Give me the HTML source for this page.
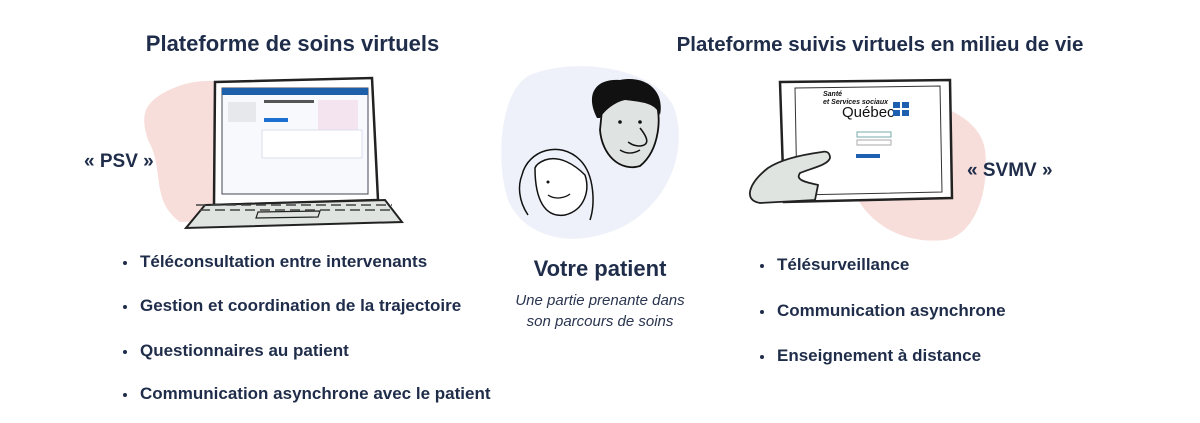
<!DOCTYPE html>
<html><head><meta charset="utf-8"><style>
body{margin:0;width:1200px;height:423px;background:#fff;position:relative;overflow:hidden;font-family:"Liberation Sans",sans-serif;color:#1f2d4a}
.t{position:absolute;font-weight:bold;white-space:nowrap}
.b{position:absolute;font-weight:bold;font-size:17px;white-space:nowrap}
.b:before{content:"";position:absolute;left:-17px;top:9px;width:4px;height:4px;border-radius:50%;background:#1f2d4a}
</style></head><body>
<svg width="1200" height="423" style="position:absolute;left:0;top:0">
<path d="M160 95 C200 70 250 80 260 110 L270 220 L180 222 C150 200 165 170 148 140 C140 115 145 105 160 95Z" fill="#f8dedb"/>
<path d="M880 100 C930 95 980 115 985 150 C990 190 975 235 945 240 C900 245 860 220 850 180 C845 140 850 105 880 100Z" fill="#f8dedb"/>
<path d="M530 75 C580 55 660 70 675 110 C690 160 660 215 610 232 C560 250 520 230 508 200 C495 160 500 90 530 75Z" fill="#eef1f9"/>
<path d="M215 82 L372 78 L378 200 L214 205 Z" fill="#fff" stroke="#222" stroke-width="2.5"/>
<rect x="222" y="88" width="146" height="106" fill="#f7f9fc" stroke="#445" stroke-width="1"/>
<rect x="222" y="88" width="146" height="7" fill="#1d5fa8"/>
<rect x="228" y="102" width="28" height="20" fill="#e6e8ec"/>
<rect x="264" y="100" width="50" height="3" fill="#555"/>
<rect x="264" y="118" width="24" height="4" fill="#1d6fd0"/>
<rect x="318" y="100" width="40" height="30" fill="#f3e4ef"/>
<rect x="262" y="130" width="100" height="28" fill="#fff" stroke="#dde"/>
<path d="M205 205 L385 200 L402 222 L186 228 Z" fill="#dfe4e1" stroke="#222" stroke-width="2"/>
<path d="M258 212 L320 211 L318 217 L256 218 Z" fill="none" stroke="#222" stroke-width="1.2"/>
<path d="M200 210 H390 M196 205 H392" stroke="#444" stroke-width="1.5" stroke-dasharray="10 5"/>
<path d="M780 82 L950 80 L952 198 L784 202 Z" fill="#fff" stroke="#222" stroke-width="2.5"/>
<path d="M795 88 L940 86 L942 192 L797 195 Z" fill="#fff" stroke="#333" stroke-width="1"/>
<text x="823" y="96" font-size="7" font-weight="bold" font-style="italic" fill="#111" font-family="Liberation Sans">Santé</text>
<text x="823" y="104" font-size="7" font-weight="bold" font-style="italic" fill="#111" font-family="Liberation Sans">et Services sociaux</text>
<text x="842" y="117" font-size="15" fill="#111" font-family="Liberation Sans">Québec</text>
<rect x="893" y="102" width="7" height="6" fill="#1f5fb0"/><rect x="902" y="102" width="7" height="6" fill="#1f5fb0"/>
<rect x="893" y="110" width="7" height="6" fill="#1f5fb0"/><rect x="902" y="110" width="7" height="6" fill="#1f5fb0"/>
<rect x="857" y="132" width="34" height="5" fill="none" stroke="#7aa"/>
<rect x="857" y="140" width="34" height="5" fill="none" stroke="#aaa"/>
<rect x="856" y="154" width="24" height="4" fill="#1f5fb0"/>
<path d="M822 152 C800 155 780 160 768 168 C750 182 742 200 760 203 L815 200 L818 185 C805 182 795 180 800 173 C812 168 828 165 830 158 C830 152 826 151 822 152Z" fill="#dfe4e1" stroke="#222" stroke-width="1.8"/>
<path d="M602 110 C598 85 640 80 655 100 C662 115 660 150 640 166 C620 172 602 155 600 130Z" fill="#dfe3e1" stroke="#111" stroke-width="1.8"/>
<path d="M597 118 C585 95 595 78 620 80 C645 75 665 90 660 115 C655 102 640 102 625 100 C615 102 605 110 600 118Z" fill="#111"/>
<path d="M640 128 C648 138 650 145 640 146 C632 146 630 143 628 142" fill="none" stroke="#111" stroke-width="1.5"/>
<path d="M522 175 C528 150 560 140 580 160 C595 175 595 205 590 220 M528 215 C518 200 518 185 522 175" fill="none" stroke="#111" stroke-width="1.5"/>
<path d="M535 168 C535 200 545 218 565 215 C585 210 590 190 585 175 C575 165 560 155 545 160 C540 162 536 165 535 168Z" fill="#fff" stroke="#111" stroke-width="1.5"/>
<path d="M548 195 C555 200 565 198 570 194" fill="none" stroke="#111" stroke-width="1.3"/>
<circle cx="548" cy="182" r="1.5" fill="#111"/><circle cx="620" cy="122" r="1.8" fill="#111"/><circle cx="640" cy="122" r="1.8" fill="#111"/>
<path d="M620 150 C628 155 635 153 640 150" fill="none" stroke="#111" stroke-width="1.4"/>
</svg>
<div class="t" style="left:0;width:585px;text-align:center;top:31px;font-size:22px">Plateforme de soins virtuels</div>
<div class="t" style="left:650px;width:460px;text-align:center;top:33px;font-size:20.5px">Plateforme suivis virtuels en milieu de vie</div>
<div class="t" style="left:84px;top:151px;font-size:19px">« PSV »</div>
<div class="t" style="left:967px;top:160px;font-size:19px">« SVMV »</div>
<div class="b" style="left:140px;top:252px">Téléconsultation entre intervenants</div>
<div class="b" style="left:140px;top:296px">Gestion et coordination de la trajectoire</div>
<div class="b" style="left:140px;top:341px">Questionnaires au patient</div>
<div class="b" style="left:140px;top:384px">Communication asynchrone avec le patient</div>
<div class="b" style="left:777px;top:255px">Télésurveillance</div>
<div class="b" style="left:777px;top:301px">Communication asynchrone</div>
<div class="b" style="left:777px;top:346px">Enseignement à distance</div>
<div class="t" style="left:500px;width:200px;text-align:center;top:256px;font-size:22px">Votre patient</div>
<div style="position:absolute;left:480px;width:240px;text-align:center;top:290px;font-size:15px;font-style:italic;line-height:21px;color:#2a3550">Une partie prenante dans<br>son parcours de soins</div>
</body></html>
